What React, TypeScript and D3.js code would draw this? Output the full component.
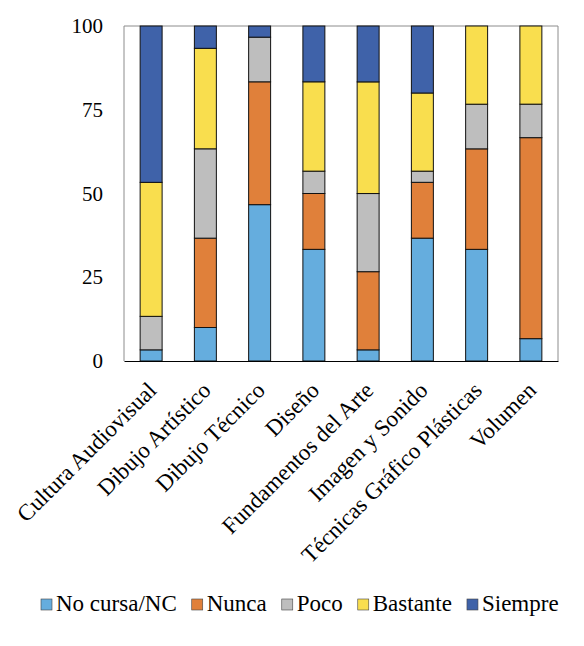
import { useEffect, useRef } from "react";
import * as d3 from "d3";

const categories: string[] = [
  "Cultura Audiovisual",
  "Dibujo Artístico",
  "Dibujo Técnico",
  "Diseño",
  "Fundamentos del Arte",
  "Imagen y Sonido",
  "Técnicas Gráfico Plásticas",
  "Volumen",
];

const seriesNames: string[] = ["No cursa/NC", "Nunca", "Poco", "Bastante", "Siempre"];

const noCursa: number[] = [3.33, 10, 46.67, 33.33, 3.33, 36.67, 33.33, 6.67];
const nunca: number[] = [0, 26.67, 36.67, 16.67, 23.33, 16.67, 30, 60];
const poco: number[] = [10, 26.67, 13.33, 6.67, 23.33, 3.33, 13.33, 10];
const bastante: number[] = [40, 30, 0, 26.67, 33.33, 23.33, 23.34, 23.33];
const siempre: number[] = [46.67, 6.66, 3.33, 16.66, 16.68, 20, 0, 0];

const yTicks: number[] = [0, 25, 50, 75, 100];

const colors: string[] = ["#65ADDE", "#E0803A", "#BEBEBE", "#F9DE4E", "#3F62A9"];

function StackedChart() {
  const svgRef = useRef<SVGSVGElement>(null);

  useEffect(() => {
    if (!svgRef.current) return;

    const svg = d3.select(svgRef.current);
    svg.selectAll("*").remove();

    const width = 584;
    const height = 646;
    svg.attr("width", width).attr("height", height);

    const margin = { top: 26, left: 124, right: 26, bottom: 285 };
    const innerWidth = width - (margin.left + margin.right);
    const innerHeight = height - (margin.top + margin.bottom);

    // set through style(): the attribute form does not pick the font up
    const font = "Liberation Serif";

    const rows = categories.map((c, i) => ({
      category: c,
      "No cursa/NC": noCursa[i],
      Nunca: nunca[i],
      Poco: poco[i],
      Bastante: bastante[i],
      Siempre: siempre[i],
    }));

    const stacked = d3.stack<any>().keys(seriesNames)(rows);

    const x = d3
      .scaleBand()
      .domain(categories)
      .range([0, innerWidth])
      .paddingInner(0.595)
      .paddingOuter(0.2975);

    const y = d3.scaleLinear().domain([0, 100]).range([innerHeight, 0]);

    const color = d3.scaleOrdinal<string, string>().domain(seriesNames).range(colors);

    const g = svg.append("g").attr("transform", `translate(${margin.left},${margin.top})`);

    // frame: grey on top, left and right
    g.append("path")
      .attr("d", `M0,${innerHeight} V0 H${innerWidth} V${innerHeight}`)
      .attr("fill", "none")
      .attr("stroke", "#8c8c8c")
      .attr("stroke-width", 1);

    // stacked bars
    g.selectAll(".series")
      .data(stacked)
      .join("g")
      .attr("class", "series")
      .attr("fill", (d) => color(d.key))
      .selectAll("rect")
      .data((d) => d.filter((p) => p[1] - p[0] > 0))
      .join("rect")
      .attr("x", (d) => x(d.data.category)!)
      .attr("y", (d) => y(d[1]))
      .attr("width", x.bandwidth())
      .attr("height", (d) => y(d[0]) - y(d[1]))
      .attr("stroke", "#111")
      .attr("stroke-width", 1);

    // y labels
    const yAxis = g.append("g").call(d3.axisLeft(y).tickValues(yTicks).tickSize(0).tickPadding(21));
    yAxis.attr("font-family", null).attr("font-size", null);
    yAxis.select(".domain").remove();
    yAxis.selectAll("text").style("font-family", font).style("font-size", "21px").attr("fill", "#000");

    // x axis line
    const xAxis = g
      .append("g")
      .attr("transform", `translate(0,${innerHeight})`)
      .call(d3.axisBottom(x).tickSize(0).tickSizeOuter(0).tickFormat(() => ""));
    xAxis.select(".domain").attr("stroke", "#000").attr("stroke-width", 1.2);

    // rotated category labels
    g.selectAll(".xlabel")
      .data(categories)
      .join("text")
      .attr("class", "xlabel")
      .attr(
        "transform",
        (d) => `translate(${x(d)! + x.bandwidth() / 2 + 1},${innerHeight + 25}) rotate(-45)`
      )
      .attr("text-anchor", "end")
      .attr("dy", "0.35em")
      .style("font-family", font)
      .style("font-size", "23px")
      .attr("fill", "#000")
      .text((d) => d);

    // legend
    const legend = svg.append("g").attr("transform", `translate(41,603)`);
    let cursor = 0;
    seriesNames.forEach((name) => {
      const item = legend.append("g").attr("transform", `translate(${cursor},0)`);
      item
        .append("rect")
        .attr("x", 0)
        .attr("y", -4)
        .attr("width", 11)
        .attr("height", 11)
        .attr("fill", color(name))
        .attr("stroke", "#444")
        .attr("stroke-width", 0.6);
      const label = item
        .append("text")
        .attr("x", 15)
        .attr("dy", "0.35em")
        .style("font-family", font)
        .style("font-size", "23px")
        .attr("fill", "#000")
        .text(name);
      const w = (label.node() as SVGTextElement).getComputedTextLength();
      cursor += 15 + w + 15;
    });
  }, []);

  return (
    <svg
      ref={svgRef}
      style={{ position: "absolute", top: 0, left: 0, background: "#fff" }}
    ></svg>
  );
}

export default function App() {
  return <StackedChart />;
}
